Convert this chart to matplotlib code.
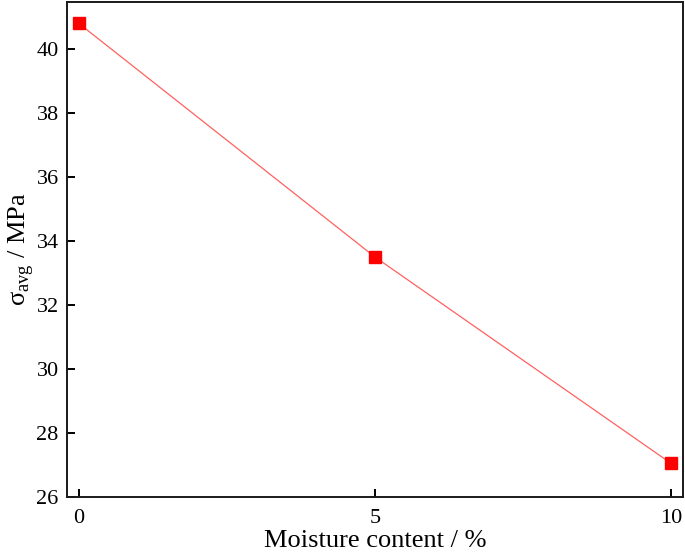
import matplotlib
matplotlib.use("Agg")
import matplotlib.pyplot as plt

moisture = [0, 5, 10]
sigma_avg = [40.8, 33.5, 27.05]
x_ticks = [0, 5, 10]
y_ticks = [26, 28, 30, 32, 34, 36, 38, 40]

plt.rcParams['font.family'] = ['Liberation Serif', 'DejaVu Serif']
plt.rcParams['mathtext.fontset'] = 'custom'
plt.rcParams['mathtext.rm'] = 'Liberation Serif'

fig = plt.figure(figsize=(6.85, 5.54), dpi=100)
ax = fig.add_axes([0.0978, 0.1029, 0.8992, 0.8935])

ax.plot(moisture, sigma_avg, color='#ff6060', linewidth=0.9, zorder=2)
ax.plot(moisture, sigma_avg, linestyle='none', marker='s', markersize=8.5,
        color='red', zorder=3)

ax.set_xlim(-0.2, 10.2)
ax.set_ylim(26, 41.47)
ax.set_xticks(x_ticks)
ax.set_yticks(y_ticks)
ax.tick_params(direction='in', length=6, width=1.4, labelsize=16,
               top=False, right=False, pad=6)
ax.tick_params(axis='x', pad=9)
for s in ax.spines.values():
    s.set_linewidth(1.4)
    s.set_color('#1a1a1a')

ax.set_xlabel('Moisture content / %', fontsize=19, labelpad=1)
ax.set_ylabel(r'σ$_{\mathrm{avg}}$ / MPa', fontsize=19, labelpad=0)

fig.savefig('out.png', dpi=100)
